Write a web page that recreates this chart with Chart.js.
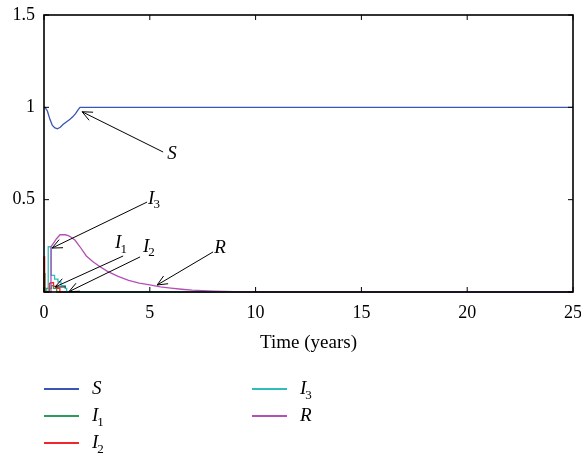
<!DOCTYPE html>
<html>
<head>
<meta charset="utf-8">
<script src="https://cdn.jsdelivr.net/npm/chart.js@4.4.1/dist/chart.umd.min.js"></script>
<style>
  html, body { margin: 0; padding: 0; background: #fff; overflow: hidden; }
</style>
</head>
<body>
<canvas id="chart" width="581" height="455"></canvas>
<script>
// time (years) and values
const sTime  = [0, 0.05, 0.16, 0.28, 0.39, 0.5, 0.63, 0.77, 0.91, 1.07, 1.23, 1.37, 1.5, 1.6, 1.7, 25];
const sVals  = [1, 1, 0.98, 0.935, 0.904, 0.89, 0.884, 0.892, 0.908, 0.922, 0.935, 0.95, 0.967, 0.985, 1, 1];

const i1Time = [0, 0.05, 0.1, 0.35, 0.45, 0.6, 0.8, 25];
const i1Vals = [0, 0.1, 0, 0.02, 0.035, 0.02, 0, 0];

const i2Time = [0, 0.03, 0.25, 0.3, 0.45, 0.6, 0.75, 1.05, 25];
const i2Vals = [0, 0.19, 0, 0.045, 0.05, 0.03, 0.02, 0, 0];

const i3Time = [0, 0.2, 0.21, 0.34, 0.35, 0.5, 0.66, 0.8, 1.0, 1.07, 1.3, 25];
const i3Vals = [0, 0, 0.245, 0.245, 0.095, 0.09, 0.07, 0.055, 0.035, 0.02, 0, 0];

const rTime  = [0, 0.3, 0.33, 0.45, 0.6, 0.76, 1.0, 1.15, 1.3, 1.47, 1.7, 2.0, 2.3, 2.65, 3.0, 3.5, 4.0, 4.5, 5.0, 5.5, 6.0, 6.5, 7.0, 8.0, 9.0, 10.0, 25];
const rVals  = [0, 0, 0.245, 0.265, 0.29, 0.31, 0.31, 0.305, 0.295, 0.28, 0.245, 0.195, 0.165, 0.137, 0.112, 0.085, 0.063, 0.048, 0.038, 0.028, 0.021, 0.015, 0.01, 0.005, 0.002, 0.001, 0];

const xTicks = [0, 5, 10, 15, 20, 25];
const yTicks = [0, 0.5, 1, 1.5];

// arrow callouts in data units: tip, tail, label (left edge, middle)
const callouts = [
  { name: 'S', sub: '',  tip: [1.80, 0.976], tail: [5.63, 0.758], at: [5.82, 0.747] },
  { name: 'I', sub: '3', tip: [0.38, 0.238], tail: [4.87, 0.487], at: [4.92, 0.504] },
  { name: 'I', sub: '1', tip: [0.52, 0.027], tail: [3.74, 0.195], at: [3.36, 0.265] },
  { name: 'I', sub: '2', tip: [1.18, 0.002], tail: [4.54, 0.190], at: [4.68, 0.244] },
  { name: 'R', sub: '',  tip: [5.35, 0.038], tail: [7.99, 0.217], at: [8.04, 0.238] }
];

const SERIF = '"Liberation Serif", "Times New Roman", serif';

function pts(t, v) {
  return t.map((x, i) => ({ x: x, y: v[i] }));
}

function drawSym(ctx, name, sub, x, y, size) {
  ctx.textBaseline = 'middle';
  ctx.textAlign = 'left';
  ctx.font = 'italic ' + size + 'px ' + SERIF;
  ctx.fillText(name, x, y);
  if (sub) {
    const w = ctx.measureText(name).width;
    ctx.font = Math.round(size * 0.68) + 'px ' + SERIF;
    ctx.fillText(sub, x + w - 1, y + size * 0.32);
  }
}

function arrow(ctx, x1, y1, x2, y2) {
  // from tail (x1,y1) to tip (x2,y2), open head
  const a = Math.atan2(y2 - y1, x2 - x1);
  const h = 11, s = 0.42;
  ctx.beginPath();
  ctx.moveTo(x1, y1);
  ctx.lineTo(x2, y2);
  ctx.moveTo(x2 - h * Math.cos(a - s), y2 - h * Math.sin(a - s));
  ctx.lineTo(x2, y2);
  ctx.lineTo(x2 - h * Math.cos(a + s), y2 - h * Math.sin(a + s));
  ctx.stroke();
}

const decor = {
  id: 'decor',
  afterDatasetsDraw(chart) {
    const { ctx, chartArea: a, scales: { x, y } } = chart;
    ctx.save();
    ctx.strokeStyle = '#000';
    ctx.fillStyle = '#000';

    // frame
    ctx.lineWidth = 1.6;
    ctx.strokeRect(a.left, a.top, a.right - a.left, a.bottom - a.top);

    // inward ticks on all four sides
    ctx.lineWidth = 1;
    ctx.beginPath();
    xTicks.forEach(t => {
      const px = x.getPixelForValue(t);
      ctx.moveTo(px, a.bottom); ctx.lineTo(px, a.bottom - 5);
      ctx.moveTo(px, a.top); ctx.lineTo(px, a.top + 5);
    });
    yTicks.forEach(t => {
      const py = y.getPixelForValue(t);
      ctx.moveTo(a.left, py); ctx.lineTo(a.left + 5, py);
      ctx.moveTo(a.right, py); ctx.lineTo(a.right - 5, py);
    });
    ctx.stroke();

    // callouts
    ctx.lineWidth = 1;
    callouts.forEach(c => {
      arrow(ctx,
        x.getPixelForValue(c.tail[0]), y.getPixelForValue(c.tail[1]),
        x.getPixelForValue(c.tip[0]), y.getPixelForValue(c.tip[1]));
      drawSym(ctx, c.name, c.sub, x.getPixelForValue(c.at[0]), y.getPixelForValue(c.at[1]), 19);
    });
    ctx.restore();
  },
  afterDraw(chart) {
    const { ctx, chartArea: a } = chart;
    ctx.save();
    ctx.fillStyle = '#000';

    // x axis title
    ctx.font = '19px ' + SERIF;
    ctx.textAlign = 'center';
    ctx.textBaseline = 'middle';
    ctx.fillText('Time (years)', (a.left + a.right) / 2, a.bottom + 51);

    // legend: two columns, filled top to bottom
    const cols = [a.left, a.left + 208];
    const rowY = [a.bottom + 97, a.bottom + 124, a.bottom + 151];
    chart.data.datasets.forEach((ds, i) => {
      const cx = cols[i < 3 ? 0 : 1];
      const cy = rowY[i < 3 ? i : i - 3];
      ctx.strokeStyle = ds.borderColor;
      ctx.lineWidth = 1.8;
      ctx.beginPath();
      ctx.moveTo(cx, cy);
      ctx.lineTo(cx + 35, cy);
      ctx.stroke();
      ctx.fillStyle = '#000';
      drawSym(ctx, ds.label, ds.sub, cx + 48, cy, 19);
    });
    ctx.restore();
  }
};

const line = (label, sub, t, v, color, order, stepped) => ({
  label: label,
  sub: sub,
  data: pts(t, v),
  borderColor: color,
  borderWidth: 1.3,
  pointRadius: 0,
  tension: 0,
  stepped: stepped,
  clip: 3,
  order: order
});

new Chart(document.getElementById('chart').getContext('2d'), {
  type: 'line',
  data: {
    datasets: [
      line('S', '',  sTime,  sVals,  '#3a55b4', 4, false),
      line('I', '1', i1Time, i1Vals, '#2f9a5a', 3, 'after'),
      line('I', '2', i2Time, i2Vals, '#f2252a', 2, 'after'),
      line('I', '3', i3Time, i3Vals, '#2fbcbc', 1, 'after'),
      line('R', '',  rTime,  rVals,  '#b350b8', 0, false)
    ]
  },
  options: {
    responsive: false,
    animation: false,
    devicePixelRatio: 1,
    layout: { padding: { top: 15, right: 8, left: 0, bottom: 0 } },
    plugins: { legend: { display: false }, tooltip: { enabled: false } },
    scales: {
      x: {
        type: 'linear',
        min: 0, max: 25,
        afterBuildTicks: s => { s.ticks = xTicks.map(v => ({ value: v })); },
        ticks: { padding: 10, color: '#000', maxRotation: 0, autoSkip: false,
                 font: { family: SERIF, size: 18 } },
        grid: { display: false, drawTicks: false },
        border: { display: false },
        afterFit: s => { s.height = 163; s.paddingLeft = 0; s.paddingRight = 0; }
      },
      y: {
        min: 0, max: 1.5,
        afterBuildTicks: s => { s.ticks = yTicks.map(v => ({ value: v })); },
        ticks: { padding: 9, color: '#000',
                 callback: v => (v === 0 ? '' : String(v)),
                 font: { family: SERIF, size: 18 } },
        grid: { display: false, drawTicks: false },
        border: { display: false },
        afterFit: s => { s.width = 44; s.paddingTop = 0; s.paddingBottom = 0; }
      }
    }
  },
  plugins: [decor]
});
</script>
</body>
</html>
